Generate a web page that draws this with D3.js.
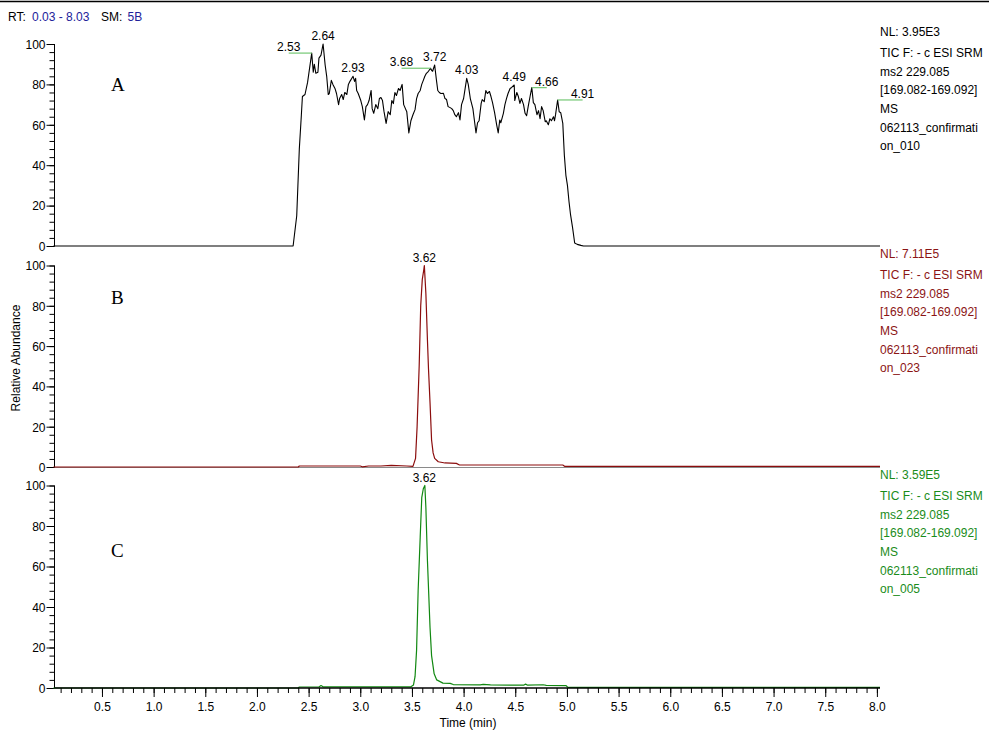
<!DOCTYPE html>
<html>
<head>
<meta charset="utf-8">
<script src="https://cdn.jsdelivr.net/npm/d3@7/dist/d3.min.js"></script>
<style>
  html, body { margin: 0; padding: 0; background: #fff; }
  svg { display: block; }
</style>
</head>
<body>
<svg id="chart" width="989" height="730"></svg>
<script>
// ---------------- DATA ----------------
// Panel A (TIC, run 010)
const aTime = [0.03, 2.35, 2.385, 2.41, 2.43, 2.44, 2.465, 2.49, 2.53, 2.545, 2.555, 2.57, 2.59, 2.60, 2.62, 2.64, 2.66, 2.675, 2.69, 2.70, 2.72, 2.735, 2.755, 2.77, 2.79, 2.80, 2.82, 2.835, 2.85, 2.87, 2.885, 2.90, 2.93, 2.945, 2.955, 2.965, 2.98, 3.005, 3.02, 3.04, 3.055, 3.07, 3.085, 3.105, 3.115, 3.13, 3.15, 3.17, 3.185, 3.20, 3.215, 3.23, 3.25, 3.27, 3.29, 3.305, 3.32, 3.335, 3.35, 3.37, 3.385, 3.405, 3.42, 3.45, 3.47, 3.49, 3.51, 3.53, 3.545, 3.56, 3.58, 3.595, 3.61, 3.625, 3.64, 3.66, 3.68, 3.69, 3.70, 3.72, 3.735, 3.75, 3.765, 3.78, 3.805, 3.82, 3.835, 3.85, 3.87, 3.885, 3.90, 3.915, 3.93, 3.95, 3.965, 3.98, 4.00, 4.015, 4.03, 4.045, 4.065, 4.09, 4.10, 4.12, 4.135, 4.15, 4.17, 4.18, 4.20, 4.215, 4.23, 4.25, 4.265, 4.28, 4.30, 4.32, 4.335, 4.35, 4.36, 4.385, 4.40, 4.415, 4.43, 4.45, 4.465, 4.49, 4.495, 4.515, 4.53, 4.545, 4.56, 4.58, 4.595, 4.61, 4.625, 4.645, 4.66, 4.675, 4.69, 4.71, 4.725, 4.74, 4.755, 4.77, 4.79, 4.80, 4.82, 4.835, 4.85, 4.87, 4.88, 4.89, 4.91, 4.925, 4.94, 4.96, 4.975, 4.99, 5.005, 5.02, 5.035, 5.055, 5.075, 5.10, 5.135, 5.16, 8.03];
const aAbund = [0, 0, 15, 48, 65, 74, 75, 81, 95.5, 86, 90, 85.5, 86, 93, 94.5, 100, 89.6, 84, 75, 75.5, 82, 80, 78, 75.5, 70, 73, 75, 72.5, 76, 75, 80, 81.5, 84, 81.5, 83, 77, 75.5, 72, 69, 62.4, 69, 70, 72, 77, 68, 65.7, 70, 68, 73, 73.5, 72, 66.5, 60.7, 66.5, 65, 72, 70.5, 76, 74.5, 78, 77, 80, 70, 66.5, 56, 62, 65, 67.5, 73, 75.5, 77, 80, 82, 84, 85.5, 86.5, 88, 87, 86.5, 89.6, 83, 77, 76, 75.5, 75.6, 73, 72.5, 69, 68.5, 68, 67, 65, 64, 66, 62.4, 70, 73, 78, 83, 80, 73, 68, 64, 56, 61, 62, 70.6, 72.5, 71.5, 77, 75.5, 76.5, 74, 71, 66, 60, 56, 62.4, 61, 65.7, 70, 73, 75.5, 78, 78.5, 79.7, 72, 76, 74, 70.6, 73, 70, 65.7, 64.5, 69, 74.5, 78.4, 71, 70, 65, 67, 63, 69, 67, 61.5, 62, 60, 63, 62, 64, 62, 65, 72.3, 66.5, 66, 60.7, 45, 35, 30, 22, 15.5, 9, 1.5, 0.8, 0.3, 0, 0];
const aPeakTimes  = [2.53, 2.64, 2.93, 3.68, 3.72, 4.03, 4.49, 4.66, 4.91];
const aPeakAbund  = [95.5, 100, 84, 88, 89.6, 83, 79.7, 78.4, 72.3];

// Panel B (run 023)
const bTime = [0.03, 2.40, 2.41, 3.00, 3.02, 3.08, 3.20, 3.30, 3.45, 3.51, 3.535, 3.55, 3.57, 3.585, 3.60, 3.615, 3.62, 3.635, 3.65, 3.66, 3.675, 3.69, 3.705, 3.72, 3.755, 3.82, 3.93, 3.96, 4.96, 4.98, 8.03];
const bAbund = [0, 0, 0.5, 0.5, 0.1, 0.5, 0.5, 0.8, 0.5, 0.3, 4.3, 20, 50, 80, 93, 98, 100, 86, 63, 49, 32, 13.4, 7, 4.3, 2.6, 2, 1.8, 1, 1, 0.3, 0.3];
const bPeakTimes = [3.62];
const bPeakAbund = [100];

// Panel C (run 005)
const cTime = [0.03, 2.40, 2.41, 2.60, 2.62, 2.64, 3.49, 3.515, 3.53, 3.545, 3.56, 3.58, 3.595, 3.61, 3.625, 3.635, 3.65, 3.675, 3.69, 3.715, 3.74, 3.80, 3.87, 3.90, 4.16, 4.19, 4.26, 4.58, 4.60, 4.62, 4.77, 4.80, 4.99, 5.01, 8.03];
const cAbund = [0, 0, 0.5, 0.5, 1.2, 0.6, 0.6, 1.5, 5.6, 18.7, 48, 74.5, 94, 98.4, 100, 89, 63, 30, 16, 7, 4, 2.4, 2.3, 1.7, 1.5, 1.8, 1.5, 1.4, 1.9, 1.4, 1.6, 1.3, 1.2, 0.3, 0.3];
const cPeakTimes = [3.62];
const cPeakAbund = [100];

// Info texts
const infoA = ["NL: 3.95E3", "TIC F: - c ESI SRM", "ms2 229.085", "[169.082-169.092]", "MS", "062113_confirmati", "on_010"];
const infoB = ["NL: 7.11E5", "TIC F: - c ESI SRM", "ms2 229.085", "[169.082-169.092]", "MS", "062113_confirmati", "on_023"];
const infoC = ["NL: 3.59E5", "TIC F: - c ESI SRM", "ms2 229.085", "[169.082-169.092]", "MS", "062113_confirmati", "on_005"];
const panelLetters = ["A", "B", "C"];
const rtRange = "0.03 - 8.03";
const smoothing = "5B";
const xDomain = [0.03, 8.03];
const yTickMajor = [0, 20, 40, 60, 80, 100];
const xTickLabels = [0.5, 1.0, 1.5, 2.0, 2.5, 3.0, 3.5, 4.0, 4.5, 5.0, 5.5, 6.0, 6.5, 7.0, 7.5, 8.0];

// ---------------- LAYOUT ----------------
const svg = d3.select("#chart");
const FONT = '"Liberation Sans", Arial, sans-serif';
const SERIF = '"Liberation Serif", "Times New Roman", serif';
const x = d3.scaleLinear().domain(xDomain).range([53.4, 880]);
const axisX = 54.5;
const infoX = 880;

// label side offsets (pixels) for side-placed peak labels in panel A
const sideShift = { "2.53": -23, "3.68": -29, "4.66": 15, "4.91": 25 };

const panels = [
  { top: 44, bottom: 246, time: aTime, abund: aAbund, color: "#000000", textColor: "#000000", info: infoA,
    pt: aPeakTimes, pa: aPeakAbund, letterY: 91, infoY: 36 },
  { top: 265.5, bottom: 467, time: bTime, abund: bAbund, color: "#8b0d0d", textColor: "#8b1414", info: infoB,
    pt: bPeakTimes, pa: bPeakAbund, letterY: 304, infoY: 258 },
  { top: 485.5, bottom: 688, time: cTime, abund: cAbund, color: "#118811", textColor: "#1a8c1a", info: infoC,
    pt: cPeakTimes, pa: cPeakAbund, letterY: 557, infoY: 479 }
];

// top border line
svg.append("line").attr("x1", 0).attr("x2", 989).attr("y1", 1.5).attr("y2", 1.5)
  .attr("stroke", "#000").attr("stroke-width", 1.3);

// header
const hdr = svg.append("text").attr("y", 21).attr("font-size", 12).attr("font-family", FONT);
hdr.append("tspan").attr("x", 8).attr("fill", "#000").text("RT:");
hdr.append("tspan").attr("x", 32).attr("fill", "#22229a").text(rtRange);
hdr.append("tspan").attr("x", 101).attr("fill", "#000").text("SM:");
hdr.append("tspan").attr("x", 127.5).attr("fill", "#22229a").text(smoothing);

panels.forEach((p, i) => {
  const y = d3.scaleLinear().domain([0, 100]).range([p.bottom, p.top]);
  const g = svg.append("g");

  if (i === 1) {
    g.append("line").attr("x1", axisX).attr("x2", 880).attr("y1", y(0) + 0.5).attr("y2", y(0) + 0.5)
      .attr("stroke", "#8a8a8a").attr("stroke-width", 1.2);
  }

  const minor = d3.axisLeft(y).tickValues(d3.range(0, 101, 4)).tickSize(5).tickFormat("");
  const gMin = g.append("g").attr("transform", `translate(${axisX},0)`).call(minor);
  gMin.select(".domain").remove();
  const major = d3.axisLeft(y).tickValues(yTickMajor).tickSize(8).tickPadding(1).tickFormat(d3.format("d"));
  const gMaj = g.append("g").attr("transform", `translate(${axisX},0)`).call(major);
  gMaj.select(".domain").attr("d", `M0,${y(100)}V${y(0)}`);
  g.selectAll(".tick line").attr("stroke", "#000");
  gMaj.attr("font-family", FONT);
  gMaj.selectAll("text").attr("font-size", 12).attr("font-family", FONT).attr("fill", "#000").attr("dy", "0.36em");

  const pts = p.time.map((t, k) => [t, p.abund[k]]);
  const line = d3.line().x(d => x(d[0])).y(d => y(d[1]));
  g.append("path").datum(pts).attr("d", line).attr("fill", "none")
    .attr("stroke", p.color).attr("stroke-width", i === 0 ? 1.1 : 1.2).attr("stroke-linejoin", "round");

  p.pt.forEach((t, k) => {
    const px = x(t), py = y(p.pa[k]);
    const key = t.toFixed(2);
    if (i === 0 && sideShift[key] !== undefined) {
      const ex = px + sideShift[key];
      g.append("line").attr("x1", px).attr("x2", ex).attr("y1", py).attr("y2", py)
        .attr("stroke", "#74c874").attr("stroke-width", 1.2);
      g.append("text").attr("x", ex).attr("y", py - 2).attr("text-anchor", "middle")
        .attr("font-size", 12).attr("font-family", FONT).attr("fill", "#000").text(key);
    } else {
      g.append("text").attr("x", px).attr("y", py - 4).attr("text-anchor", "middle")
        .attr("font-size", 12).attr("font-family", FONT).attr("fill", "#000").text(key);
    }
  });

  g.append("text").attr("x", 111).attr("y", p.letterY).attr("font-size", 19)
    .attr("font-family", SERIF).attr("fill", "#000")
    .text(panelLetters[i]);

  p.info.forEach((s, k) => {
    g.append("text").attr("x", infoX).attr("y", p.infoY + (k === 0 ? 0 : 2.5 + k * 18.6))
      .attr("font-size", 12).attr("font-family", FONT).attr("fill", p.textColor).text(s);
  });

  if (i === 2) {
    const gx = svg.append("g").attr("transform", `translate(0,${y(0)})`);
    const minorX = d3.axisBottom(x).tickValues(d3.range(1, 81).map(v => v / 10)).tickSize(5).tickFormat("");
    const gmx = gx.append("g").call(minorX);
    gmx.select(".domain").attr("d", `M${axisX},0H880`);
    const majorX = d3.axisBottom(x).tickValues(xTickLabels).tickSize(9).tickPadding(5).tickFormat(d3.format(".1f"));
    const gMX = gx.append("g").call(majorX);
    gMX.select(".domain").remove();
    gx.selectAll(".tick line").attr("stroke", "#000");
    gx.selectAll(".domain").attr("stroke", "#000").attr("stroke-width", 1.3);
    gMX.attr("font-family", FONT);
    gMX.selectAll("text").attr("font-size", 12).attr("font-family", FONT).attr("fill", "#000");
  }
});

svg.append("text").attr("x", 468).attr("y", 727).attr("text-anchor", "middle")
  .attr("font-size", 12).attr("font-family", FONT).text("Time (min)");
svg.append("text").attr("transform", "translate(20,358) rotate(-90)").attr("text-anchor", "middle")
  .attr("font-size", 12).attr("font-family", FONT).text("Relative Abundance");
</script>
</body>
</html>
